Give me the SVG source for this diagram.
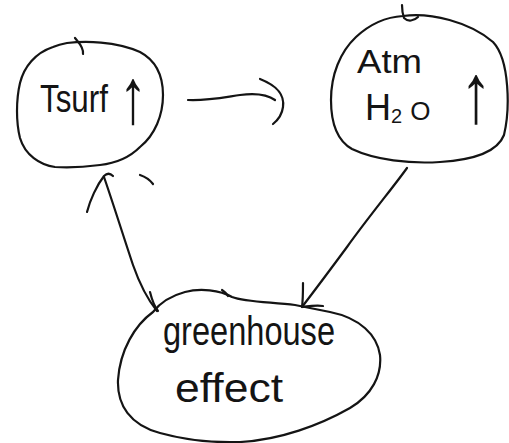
<svg xmlns="http://www.w3.org/2000/svg" width="509" height="443" viewBox="0 0 509 443">
  <style>
    .ink { fill: none; stroke: #141414; stroke-width: 2.2; stroke-linecap: round; stroke-linejoin: round; }
    .label { font-family: "Liberation Sans", "DejaVu Sans", sans-serif; fill: #141414; }
    .sym { font-family: "Liberation Sans", "DejaVu Sans", sans-serif; fill: #141414; }
  </style>
  <rect width="509" height="443" fill="#ffffff"/>

  <!-- surface temperature bubble -->
  <g id="node-tsurf">
    <path class="ink" d="M 67,43 C 85,41 115,41 140,52 C 155,60 163,75 163,95 C 163,115 155,135 140,147 C 130,157 118,163 100,165 C 85,167 70,168 55,167 C 40,165 25,155 20,138 C 16,122 16,100 20,83 C 24,67 35,53 53,47 C 58,45 62,44 67,43 Z"/>
    <path class="ink" d="M 75,38 C 78,42 84,47 83,54"/>
    <text class="label" x="40" y="112" font-size="38" textLength="68" lengthAdjust="spacingAndGlyphs">Tsurf</text>
    <text class="sym" transform="translate(133,123) scale(1,1.4)" x="0" y="0" font-size="56" text-anchor="middle">↑</text>
  </g>

  <!-- atmospheric water vapour bubble -->
  <g id="node-atm">
    <path class="ink" d="M 403,16 C 430,12 470,22 493,42 C 510,60 510,110 504,135 C 497,153 472,160 440,162 C 410,164 375,160 352,149 C 336,140 331,120 331,100 C 331,75 340,52 356,37 C 370,24 386,17 403,16 Z"/>
    <path class="ink" d="M 402,5 C 402,10 403,15 404,18 C 408,22 414,21 418,17"/>
    <text class="label" x="357" y="73" font-size="34" textLength="65" lengthAdjust="spacingAndGlyphs">Atm</text>
    <text class="label" x="365" y="120" font-size="36">H<tspan font-size="20" dy="3">2</tspan><tspan font-size="26" dx="8" dy="-3">O</tspan></text>
    <text class="sym" transform="translate(476,122) scale(1.1,1.45)" x="0" y="0" font-size="58" text-anchor="middle">↑</text>
  </g>

  <!-- greenhouse effect bubble -->
  <g id="node-greenhouse">
    <path class="ink" d="M 153,312 C 135,325 120,350 118,380 C 117,405 130,425 160,433 C 185,440 210,443 240,442 C 280,440 320,425 350,408 C 372,395 382,375 380,355 C 377,335 360,318 330,312 C 315,309 305,307 295,305 C 270,302 245,302 232,297 C 220,290 200,288 185,292 C 170,296 160,303 153,312 Z"/>
    <path class="ink" d="M 222,290 C 225,292 227,294 228,296"/>
    <text class="label" x="163" y="345" font-size="40" textLength="172" lengthAdjust="spacingAndGlyphs">greenhouse</text>
    <text class="label" x="175" y="402" font-size="40" textLength="108" lengthAdjust="spacingAndGlyphs">effect</text>
  </g>

  <!-- hand-drawn connectors with open arrowheads -->
  <g id="connectors">
    <!-- Tsurf to Atm -->
    <path class="ink" d="M 188,100 C 205,101 220,98 240,95 C 255,93 268,95 275,100"/>
    <path class="ink" d="M 260,79 C 275,85 285,93 283,107 C 282,115 278,120 273,124"/>
    <!-- greenhouse back to Tsurf -->
    <path class="ink" d="M 157,311 C 148,300 140,285 133,265 C 123,235 112,200 104,177"/>
    <path class="ink" d="M 87,212 C 90,200 97,185 104,176 C 107,173 110,173 113,176"/>
    <path class="ink" d="M 140,175 C 146,177 150,180 153,184"/>
    <path class="ink" d="M 150,292 C 152,300 154,306 158,311"/>
    <!-- Atm down to greenhouse -->
    <path class="ink" d="M 407,168 C 395,185 370,215 347,247 C 330,270 315,290 302,307"/>
    <path class="ink" d="M 303,283 C 303,292 303,300 302,307 C 310,306 316,305 323,306"/>
  </g>
</svg>
